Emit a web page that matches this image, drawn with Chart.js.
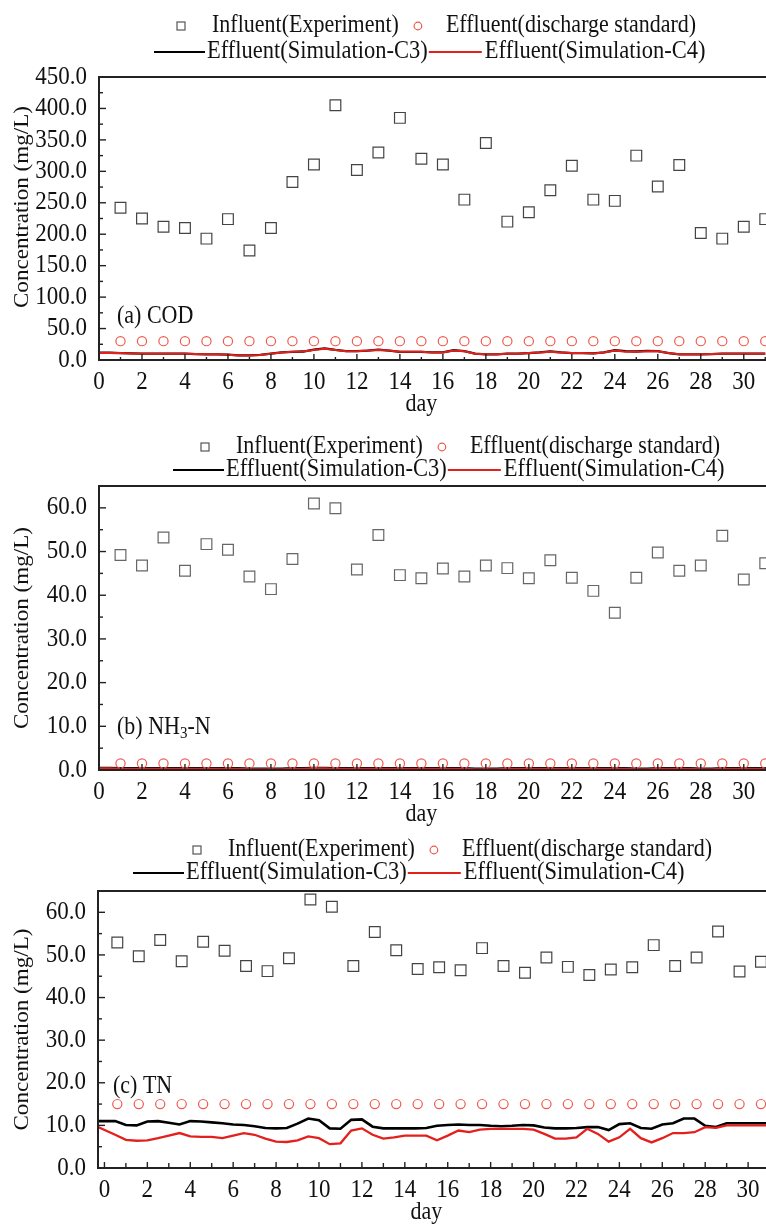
<!DOCTYPE html>
<html>
<head>
<meta charset="utf-8">
<script src="https://cdn.jsdelivr.net/npm/chart.js@4.4.1/dist/chart.umd.min.js"></script>
<style>
html, body { margin: 0; padding: 0; background: #fff; }
#wrap { position: relative; width: 766px; height: 1230px; overflow: hidden; }
canvas { position: absolute; left: 0; }
</style>
</head>
<body>
<div id="wrap">
  <canvas id="cod" width="800" height="430" style="top:0px"></canvas>
  <canvas id="nh3" width="800" height="420" style="top:420px"></canvas>
  <canvas id="tn" width="800" height="410" style="top:820px"></canvas>
</div>
<script>
// sampling days of the experiment
var days = [1,2,3,4,5,6,7,8,9,10,11,12,13,14,15,16,17,18,19,20,21,22,23,24,25,26,27,28,29,30,31];
// the TN panel has its points shifted about half a day to the left
var tnDays = [0.6,1.6,2.6,3.6,4.6,5.6,6.6,7.6,8.6,9.6,10.6,11.6,12.6,13.6,14.6,15.6,16.6,17.6,18.6,19.6,20.6,21.6,22.6,23.6,24.6,25.6,26.6,27.6,28.6,29.6,30.6];

// influent measurements
var codInfluent = [242,225,212,210,193,224,174,210,283,311,405,302,330,385,320,311,255,345,220,235,270,309,255,253,325,276,310,202,193,212,224];
var nh3Influent = [49.2,46.8,53.2,45.6,51.7,50.4,44.3,41.4,48.3,61.0,59.9,45.9,53.8,44.6,43.9,46.1,44.3,46.8,46.2,43.9,48.0,44.0,41.0,36.0,44.0,49.8,45.6,46.8,53.6,43.6,47.3];
var tnInfluent = [52.9,49.7,53.5,48.5,53.1,51.0,47.4,46.2,49.2,63.0,61.3,47.4,55.4,51.1,46.7,47.1,46.4,51.6,47.4,45.8,49.4,47.2,45.3,46.6,47.1,52.3,47.4,49.4,55.5,46.1,48.4];

// discharge standard
var codStandard = [30,30,30,30,30,30,30,30,30,30,30,30,30,30,30,30,30,30,30,30,30,30,30,30,30,30,30,30,30,30,30];
var nh3Standard = [1.5,1.5,1.5,1.5,1.5,1.5,1.5,1.5,1.5,1.5,1.5,1.5,1.5,1.5,1.5,1.5,1.5,1.5,1.5,1.5,1.5,1.5,1.5,1.5,1.5,1.5,1.5,1.5,1.5,1.5,1.5];
var tnStandard = [15,15,15,15,15,15,15,15,15,15,15,15,15,15,15,15,15,15,15,15,15,15,15,15,15,15,15,15,15,15,15];

// simulation time (half-day steps)
var simDays = [0,0.5,1,1.5,2,2.5,3,3.5,4,4.5,5,5.5,6,6.5,7,7.5,8,8.5,9,9.5,
  10,10.5,11,11.5,12,12.5,13,13.5,14,14.5,15,15.5,16,16.5,17,17.5,18,18.5,19,19.5,
  20,20.5,21,21.5,22,22.5,23,23.5,24,24.5,25,25.5,26,26.5,27,27.5,28,28.5,29,29.5,
  30,30.5,31];
var tnSimDays = [-0.3,0.5,1,1.5,2,2.5,3,3.5,4,4.5,5,5.5,6,6.5,7,7.5,8,8.5,9,9.5,
  10,10.5,11,11.5,12,12.5,13,13.5,14,14.5,15,15.5,16,16.5,17,17.5,18,18.5,19,19.5,
  20,20.5,21,21.5,22,22.5,23,23.5,24,24.5,25,25.5,26,26.5,27,27.5,28,28.5,29,29.5,
  30,30.5,31];

var codC3 = [11.5,11.5,11,10.5,10,10,10,10,10,9.5,
  9,9,8.5,7.5,7.5,8,10,12,13,13.5,
  16.5,18.5,16,14,14,15,16.5,15,13,13,
  13,12,12,15.5,14,10,9,9,10,10,
  11,12,13.5,12,11,11,10.5,12,15.5,14,
  13.5,14.5,14,11,9,9,9,9.5,10,10,
  10,10,10];
var codC4 = [11,11,11,10.5,10,10,10,10,10,9.5,
  9,9,8.5,7,7,8,10,12,13,13.5,
  16,18,16,14,14,15,16,15,13,13,
  13,12,12,15,14,10,9,9,10,10,
  11,12,13,12,11,11,10.5,12,15,13,
  13,14,14,11,9,9,9,9.5,10,10,
  10,10,10];

var nh3C3 = [0.5,0.5,0.4,0.4,0.4,0.4,0.4,0.4,0.4,0.4,
  0.4,0.4,0.4,0.4,0.3,0.3,0.3,0.3,0.4,0.4,
  0.5,0.5,0.4,0.4,0.4,0.4,0.4,0.4,0.4,0.4,
  0.4,0.4,0.4,0.4,0.4,0.3,0.3,0.3,0.4,0.4,
  0.4,0.4,0.4,0.4,0.4,0.4,0.4,0.4,0.4,0.4,
  0.3,0.3,0.4,0.4,0.4,0.4,0.3,0.3,0.4,0.4,
  0.4,0.4,0.4];
var nh3C4 = [0.4,0.4,0.3,0.3,0.3,0.3,0.3,0.3,0.3,0.3,
  0.3,0.3,0.3,0.3,0.2,0.2,0.2,0.2,0.3,0.3,
  0.4,0.4,0.3,0.3,0.3,0.3,0.3,0.3,0.3,0.3,
  0.3,0.3,0.3,0.3,0.3,0.2,0.2,0.2,0.3,0.3,
  0.3,0.3,0.3,0.3,0.3,0.3,0.3,0.3,0.3,0.3,
  0.2,0.2,0.3,0.3,0.3,0.3,0.2,0.2,0.3,0.3,
  0.3,0.3,0.3];

var tnC3 = [11.0,11.0,10.1,10.0,10.9,11.0,10.6,10.2,11.0,10.9,
  10.7,10.5,10.2,10.1,9.8,9.4,9.3,9.4,10.4,11.6,
  11.2,9.3,9.2,11.3,11.4,9.7,9.3,9.3,9.3,9.3,
  9.4,9.9,10.1,10.2,10.1,10.1,9.9,9.8,9.9,10.1,
  10.0,9.5,9.3,9.3,9.4,9.6,9.6,8.9,10.3,10.5,
  9.4,9.2,10.2,10.5,11.6,11.6,9.9,9.6,10.5,10.5,
  10.5,10.5,10.5];
var tnC4 = [9.6,7.8,6.6,6.4,6.5,7.0,7.6,8.2,7.4,7.3,
  7.3,7.0,7.6,8.2,7.8,6.9,6.2,6.1,6.5,7.4,
  7.0,5.6,5.8,8.8,9.3,7.8,6.9,7.2,7.6,7.6,
  7.6,6.5,7.6,8.8,8.4,9.0,9.2,9.2,9.2,9.2,
  9.0,8.0,6.9,6.9,7.2,9.2,8.0,6.2,7.2,9.2,
  7.0,6.0,7.0,8.2,8.2,8.4,9.6,9.4,10.0,10.0,
  10.0,10.0,10.0];

// tick labels
var codTicks = [0,50,100,150,200,250,300,350,400,450];
var nTicks = [0,10,20,30,40,50,60];
var xTicks = [0,2,4,6,8,10,12,14,16,18,20,22,24,26,28,30];

var FONT = '"Liberation Serif", "Times New Roman", serif';
var SY = 1.1; // the figure is slightly stretched vertically

function pts(xs, ys) {
  return ys.map(function (v, i) { return { x: xs[i], y: v }; });
}

function stext(ctx, s, x, y, size, align) {
  ctx.save();
  ctx.font = size + 'px ' + FONT;
  ctx.textAlign = align || 'left';
  ctx.textBaseline = 'middle';
  ctx.fillStyle = '#111';
  ctx.translate(x, y);
  ctx.scale(1, SY);
  ctx.fillText(s, 0, 0);
  ctx.restore();
  ctx.font = size + 'px ' + FONT;
  return ctx.measureText(s).width;
}

function drawLegend(ctx, lg) {
  // row 1: symbols
  ctx.save();
  ctx.strokeStyle = '#555';
  ctx.lineWidth = 1.2;
  ctx.strokeRect(lg.mx - 4, lg.y1 - 4, 8, 8);
  var w = stext(ctx, 'Influent(Experiment)', lg.mx + 31, lg.y1, 22);
  var cx = lg.mx + 31 + w + 19;
  ctx.strokeStyle = '#ee5a4c';
  ctx.beginPath();
  ctx.arc(cx, lg.y1, 3.8, 0, Math.PI * 2);
  ctx.stroke();
  stext(ctx, 'Effluent(discharge standard)', cx + 28, lg.y1, 22);
  // row 2: lines
  ctx.lineWidth = 2;
  ctx.strokeStyle = '#000';
  ctx.beginPath();
  ctx.moveTo(lg.lx, lg.y2); ctx.lineTo(lg.lx + 51, lg.y2);
  ctx.stroke();
  w = stext(ctx, 'Effluent(Simulation-C3)', lg.lx + 53, lg.y2, 22.5);
  var rx = lg.lx + 53 + w + 1;
  ctx.strokeStyle = '#e3201b';
  ctx.beginPath();
  ctx.moveTo(rx, lg.y2); ctx.lineTo(rx + 53, lg.y2);
  ctx.stroke();
  stext(ctx, 'Effluent(Simulation-C4)', rx + 56, lg.y2, 22.5);
  ctx.restore();
}

var panelPlugin = {
  id: 'panel',
  afterDraw: function (chart, args, o) {
    var ctx = chart.ctx, a = chart.chartArea;
    var xs = chart.scales.x, ys = chart.scales.y;
    ctx.save();
    // frame (right side runs off the page)
    ctx.strokeStyle = '#222';
    ctx.lineWidth = 2;
    ctx.beginPath();
    ctx.moveTo(chart.width, a.top);
    ctx.lineTo(a.left, a.top);
    ctx.lineTo(a.left, a.bottom);
    ctx.lineTo(chart.width, a.bottom);
    ctx.stroke();

    ctx.lineWidth = 1.4;
    function tick(x1, y1, x2, y2) {
      ctx.beginPath(); ctx.moveTo(x1, y1); ctx.lineTo(x2, y2); ctx.stroke();
    }
    // y axis ticks, inward
    o.yTicks.forEach(function (v, i) {
      var y = ys.getPixelForValue(v);
      if (i > 0) tick(a.left, y, a.left + 7, y);
      var ym = ys.getPixelForValue(v + o.yStep / 2);
      if (ym > a.top + 2) tick(a.left, ym, a.left + 4, ym);
      stext(ctx, v.toFixed(1), a.left - 12, y, 23, 'right');
    });
    // x axis ticks, inward
    o.xTicks.forEach(function (v) {
      var x = xs.getPixelForValue(v);
      if (v > 0 || o.xOffset) tick(x, a.bottom, x, a.bottom - 6);
      var xm = xs.getPixelForValue(v + 1);
      tick(xm, a.bottom, xm, a.bottom - o.minorLen);
      stext(ctx, String(v), x, a.bottom + 22, 23, 'center');
    });
    stext(ctx, 'day', xs.getPixelForValue(15), a.bottom + 45, 22, 'center');

    // axis title
    ctx.save();
    ctx.font = '22px ' + FONT;
    ctx.fillStyle = '#111';
    ctx.textAlign = 'center';
    ctx.textBaseline = 'middle';
    ctx.translate(22, o.titleY || (a.top + a.bottom) / 2);
    ctx.rotate(-Math.PI / 2);
    ctx.scale(1.05, 1);
    ctx.fillText('Concentration (mg/L)', 0, 0);
    ctx.restore();

    // panel label
    var lx = o.label.x;
    o.label.parts.forEach(function (p) {
      if (p[1]) lx += stext(ctx, p[0], lx, o.label.y + 6, 15);
      else lx += stext(ctx, p[0], lx, o.label.y, 22);
    });

    drawLegend(ctx, o.legend);
    ctx.restore();
  }
};

function makePanel(id, opt) {
  return new Chart(document.getElementById(id), {
    type: 'scatter',
    data: {
      datasets: [
        { label: 'Influent(Experiment)', data: pts(opt.pDays, opt.influent), pointStyle: 'rect',
          pointRadius: 7.6, pointBorderWidth: 1.2, pointBorderColor: opt.sqColor,
          pointBackgroundColor: 'rgba(0,0,0,0)', showLine: false },
        { label: 'Effluent(discharge standard)', data: pts(opt.pDays, opt.standard), pointStyle: 'circle',
          pointRadius: 4.6, pointBorderWidth: 1.2, pointBorderColor: '#ee5a4c',
          pointBackgroundColor: 'rgba(0,0,0,0)', showLine: false },
        { label: 'Effluent(Simulation-C4)', data: pts(opt.sDays, opt.c4), showLine: true,
          pointRadius: 0, borderColor: '#e3201b', borderWidth: opt.lw, tension: 0 },
        { label: 'Effluent(Simulation-C3)', data: pts(opt.sDays, opt.c3), showLine: true,
          pointRadius: 0, borderColor: '#000', borderWidth: opt.lw + 0.3, tension: 0 }
      ]
    },
    options: {
      responsive: false,
      animation: false,
      devicePixelRatio: 1,
      layout: { padding: opt.pad },
      scales: {
        x: { type: 'linear', min: opt.xmin, max: opt.xmax, display: false },
        y: { type: 'linear', min: 0, max: opt.ymax, display: false }
      },
      plugins: {
        legend: { display: false },
        tooltip: { enabled: false },
        panel: {
          yTicks: opt.yTicks, yStep: opt.yTicks[1] - opt.yTicks[0], xTicks: xTicks,
          minorLen: opt.minorLen, xOffset: opt.xmin < 0, titleY: opt.titleY,
          label: opt.label, legend: opt.legend
        }
      }
    },
    plugins: [panelPlugin]
  });
}

makePanel('cod', {
  pDays: days, sDays: simDays, influent: codInfluent, standard: codStandard,
  c3: codC3, c4: codC4, lw: 2, sqColor: '#444',
  xmin: 0, xmax: 31.5, ymax: 450, yTicks: codTicks, minorLen: 3, titleY: 207,
  pad: { left: 99, right: 24, top: 77, bottom: 70 },
  label: { x: 117, y: 317, parts: [['(a) COD', false]] },
  legend: { mx: 181, y1: 26, lx: 154, y2: 52 }
});

makePanel('nh3', {
  pDays: days, sDays: simDays, influent: nh3Influent, standard: nh3Standard,
  c3: nh3C3, c4: nh3C4, lw: 2, sqColor: '#666',
  xmin: 0, xmax: 31.5, ymax: 65, yTicks: nTicks, minorLen: 3,
  pad: { left: 99, right: 24, top: 66, bottom: 70 },
  label: { x: 117, y: 308, parts: [['(b) NH', false], ['3', true], ['-N', false]] },
  legend: { mx: 205, y1: 27, lx: 173, y2: 50 }
});

makePanel('tn', {
  pDays: tnDays, sDays: tnSimDays, influent: tnInfluent, standard: tnStandard,
  c3: tnC3, c4: tnC4, lw: 2.3, sqColor: '#444',
  xmin: -0.3, xmax: 31.3, ymax: 65, yTicks: nTicks, minorLen: 5,
  pad: { left: 98, right: 24, top: 71, bottom: 62 },
  label: { x: 113, y: 267, parts: [['(c) TN', false]] },
  legend: { mx: 197, y1: 30, lx: 133, y2: 53 }
});
</script>
</body>
</html>
